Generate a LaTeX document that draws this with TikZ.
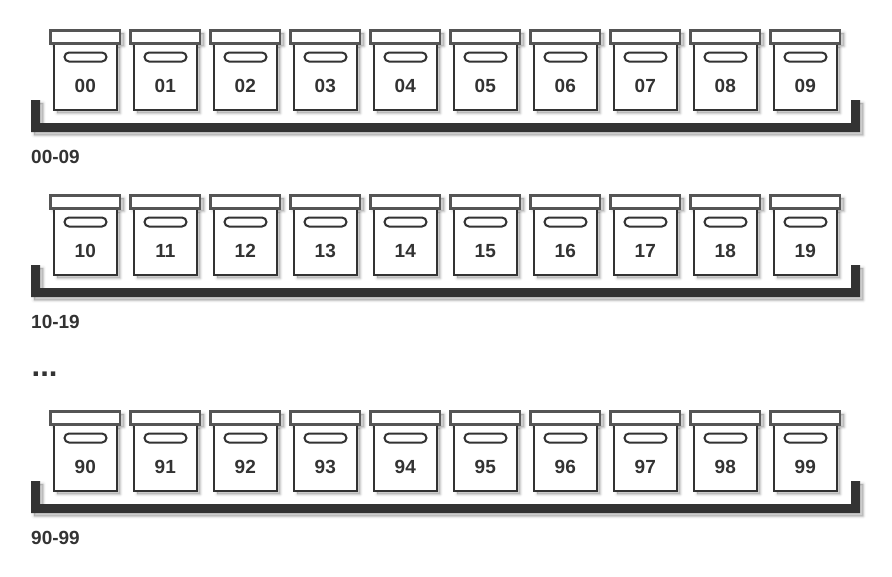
\documentclass[tikz,border=0pt]{standalone}
\usepackage{fontspec}
\setmainfont{Liberation Sans}
\usetikzlibrary{positioning}
\definecolor{ink}{HTML}{333333}
\definecolor{lidink}{HTML}{555555}
\newcommand{\softshadow}[1]{%
  \foreach \w/\o in {6/0.02,4.5/0.025,3/0.03,1.5/0.04,0.4/0.05}{
    \fill[black,opacity=\o,draw=black,draw opacity=\o,line width=\w pt,line join=round] #1;
  }}
\tikzset{
  x=1pt,y=-1pt,
  bodybox/.style={draw=ink,line width=2.2pt,fill=white,minimum width=62.6pt,minimum height=65.8pt,inner sep=0pt,outer sep=0pt,anchor=north west},
  lidbox/.style={draw=lidink,line width=2.2pt,fill=white,minimum width=69.6pt,minimum height=13pt,inner sep=0pt,outer sep=0pt,anchor=north west},
  slotbox/.style={draw=ink,line width=2pt,fill=white,rounded corners=4.5pt,minimum width=42pt,minimum height=9pt,inner sep=0pt,outer sep=0pt},
  numtext/.style={font=\bfseries\fontsize{19pt}{20pt}\selectfont,text=ink,inner sep=0pt},
  rowlabel/.style={font=\bfseries\fontsize{19pt}{20pt}\selectfont,text=ink,inner sep=0pt,anchor=base west},
  dotstext/.style={font=\bfseries\fontsize{31pt}{32pt}\selectfont,text=ink,inner sep=0pt,anchor=base west},
}
\begin{document}
\begin{tikzpicture}
\useasboundingbox (0,0) rectangle (892,576);
\fill[white] (0,0) rectangle (892,576);
\foreach \row/\ytop/\rowname in {0/0/00-09,1/165/10-19,9/381/90-99}{
  % tray
  \softshadow{(34,\ytop+103) -- (43,\ytop+103) -- (43,\ytop+126) -- (854,\ytop+126) -- (854,\ytop+103) -- (863,\ytop+103) -- (863,\ytop+135) -- (34,\ytop+135) -- cycle}
  \fill[ink] (31,\ytop+100) -- (40,\ytop+100) -- (40,\ytop+123) -- (851,\ytop+123) -- (851,\ytop+100) -- (860,\ytop+100) -- (860,\ytop+132) -- (31,\ytop+132) -- cycle;
  \node[rowlabel] (label\row) at (31,\ytop+163) {\rowname};
  \foreach \col in {0,...,9}{
    \pgfmathsetmacro{\xs}{54+80*\col}
    \softshadow{(\xs+3,\ytop+47) rectangle (\xs+66,\ytop+113)}
    \softshadow{(\xs-1,\ytop+33) rectangle (\xs+70,\ytop+46)}
    \node[bodybox] (body\row\col) at (\xs,\ytop+44.3) {};
    \node[lidbox] (lid\row\col) at (\xs-3.5,\ytop+30.5) {};
    \node[slotbox] (slot\row\col) at (\xs+31.5,\ytop+57) {};
    \node[numtext,anchor=base] (num\row\col) at (\xs+31.3,\ytop+92.7) {\row\col};
  }
}
\node[dotstext] (dots) at (31.5,376.5) {...};
\end{tikzpicture}
\end{document}
